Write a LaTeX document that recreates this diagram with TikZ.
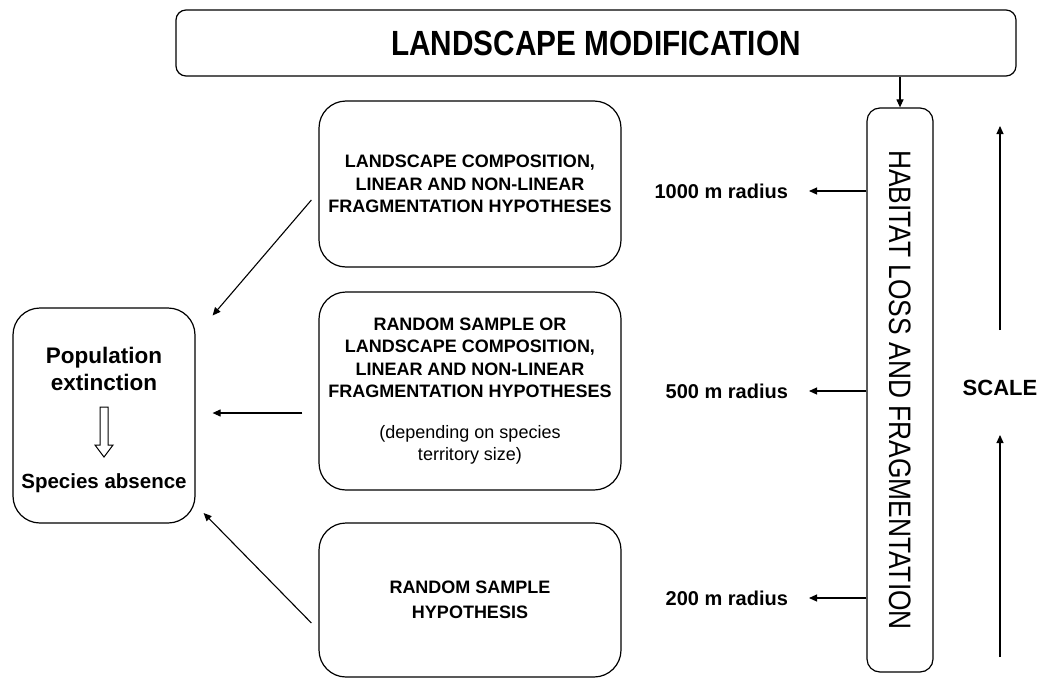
\documentclass[tikz,border=0pt]{standalone}
\usepackage{fontspec}
\setmainfont{Liberation Sans}
\usetikzlibrary{arrows.meta}

\begin{document}
\begin{tikzpicture}[x=1pt, y=-1pt,
    box/.style={draw, line width=1.2pt, rounded corners=27pt, align=center, inner sep=0pt},
    hyp/.style={box, minimum width=302pt, font=\fontsize{18}{22.5}\selectfont\bfseries},
    radius/.style={anchor=east, inner sep=0pt, outer xsep=21pt, font=\fontsize{20}{24}\selectfont\bfseries},
    link/.style={line width=1.1pt, -{Triangle[length=8pt, width=7pt]}}]
    \useasboundingbox (0, 0) rectangle (1041, 680);

    \node[box, rounded corners=10pt, minimum width=840pt, minimum height=66pt,
        font=\fontsize{35}{38}\selectfont\bfseries] (modif) at (596, 43) {\scalebox{0.85}[1]{LANDSCAPE MODIFICATION}};
    \node[box, rounded corners=13pt, minimum width=66pt, minimum height=564pt] (habitat) at (900, 390) {};
    \node[rotate=-90, font=\fontsize{31}{34}\selectfont] (habtext) at (habitat.center)
        {\scalebox{0.85}[1]{HABITAT LOSS AND FRAGMENTATION}};

    \node[hyp, minimum height=166pt] (comp) at (470, 184)
        {LANDSCAPE COMPOSITION,\\LINEAR AND NON-LINEAR\\FRAGMENTATION HYPOTHESES};
    \node[hyp, minimum height=198pt] (mixed) at (470, 391)
        {RANDOM SAMPLE OR\\LANDSCAPE COMPOSITION,\\LINEAR AND NON-LINEAR\\FRAGMENTATION HYPOTHESES\\[18pt]
        \mdseries (depending on species\\\mdseries territory size)};
    \node[hyp, minimum height=154pt, font=\fontsize{18}{25}\selectfont\bfseries] (random) at (470, 600)
        {RANDOM SAMPLE\\HYPOTHESIS};

    \node[box, minimum width=182pt, minimum height=215pt] (extinct) at (104, 415.5) {};
    \node[font=\fontsize{22.5}{27}\selectfont\bfseries, align=center] (pop) at (104, 368.5) {Population\\extinction};
    \node[font=\fontsize{20.5}{24}\selectfont\bfseries] (absence) at (104, 483) {Species absence};
    \draw[line width=1pt] (100, 407) -- (108, 407) -- (108, 445) -- (113, 445) -- (104, 457)
        -- (95, 445) -- (100, 445) -- cycle;

    \node[radius] (r1000) at (809, 191) {1000 m radius};
    \node[radius] (r500) at (809, 391) {500 m radius};
    \node[radius] (r200) at (809, 598) {200 m radius};
    \draw[link] (habitat.west |- r1000.east) -- (r1000.east);
    \draw[link] (habitat.west |- r500.east) -- (r500.east);
    \draw[link] (habitat.west |- r200.east) -- (r200.east);

    \draw[link] (habitat.north |- modif.south) -- (habitat.north);

    \draw[link] ([shift={(-7, 16)}]comp.west) -- ([shift={(17, -100)}]extinct.east);
    \draw[link] ([shift={(-16, 22)}]mixed.west) -- ([shift={(17, -2.5)}]extinct.east);
    \draw[link] ([shift={(-7, 23)}]random.west) -- ([shift={(8, 97.5)}]extinct.east);

    \node[font=\fontsize{22}{26}\selectfont\bfseries] (scale) at (1000, 388) {SCALE};
    \draw[link] ([shift={(0, -58)}]scale.center) -- ([shift={(0, -262)}]scale.center);
    \draw[link] ([shift={(0, 269)}]scale.center) -- ([shift={(0, 47)}]scale.center);
\end{tikzpicture}
\end{document}
